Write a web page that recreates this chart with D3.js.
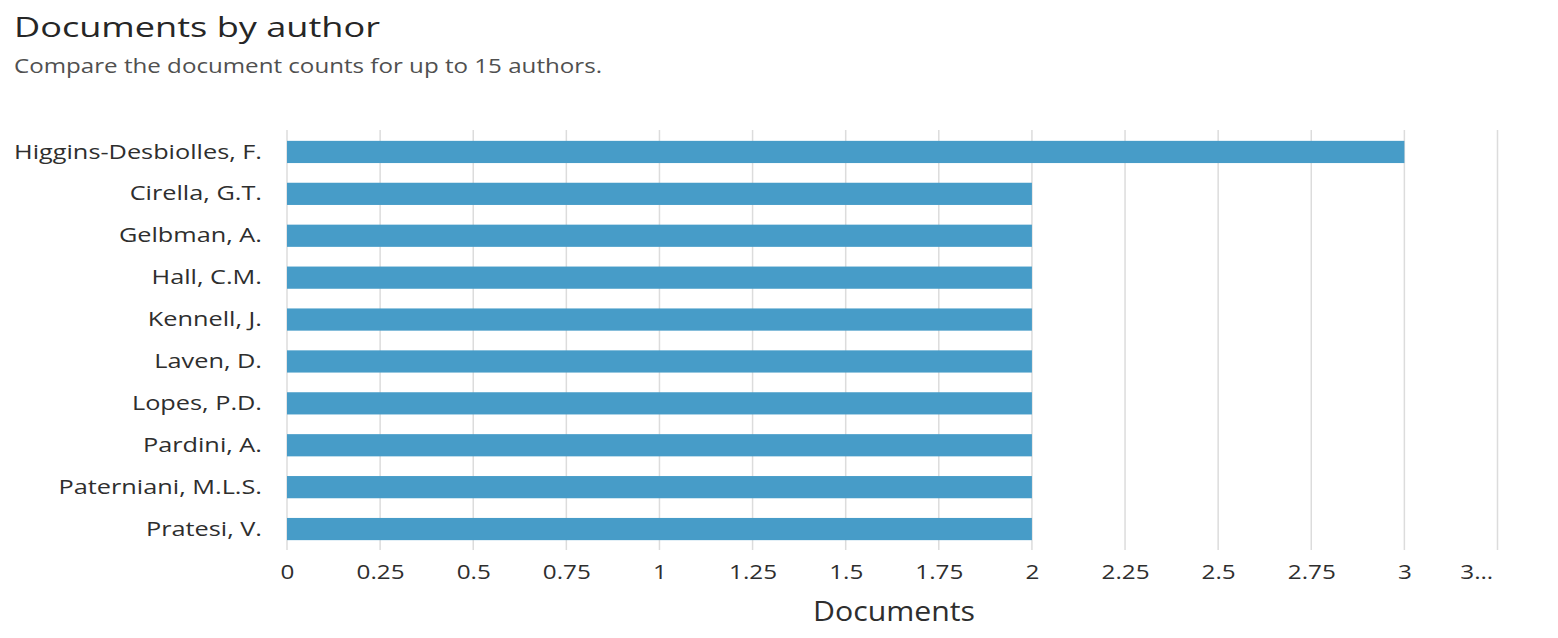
<!DOCTYPE html>
<html><head><meta charset="utf-8">
<script src="https://cdn.jsdelivr.net/npm/d3@7"></script>
<style>
body{margin:0;background:#fff;}
text{font-family:"Open Sans",Lato,sans-serif;}
</style></head><body>
<svg id="c" width="1558" height="638"></svg>
<script>
const authors = ["Higgins-Desbiolles, F.","Cirella, G.T.","Gelbman, A.","Hall, C.M.","Kennell, J.","Laven, D.","Lopes, P.D.","Pardini, A.","Paterniani, M.L.S.","Pratesi, V."];
const documents = [3,2,2,2,2,2,2,2,2,2];
const tickValues = [0,0.25,0.5,0.75,1,1.25,1.5,1.75,2,2.25,2.5,2.75,3,3.25];
const tickLabels = ["0","0.25","0.5","0.75","1","1.25","1.5","1.75","2","2.25","2.5","2.75","3","3…"];

const svg = d3.select("#c");

function stretch(sel, factor){
  sel.each(function(){
    const w = this.getComputedTextLength();
    d3.select(this).attr("textLength", w*factor).attr("lengthAdjust","spacingAndGlyphs");
  });
}

const title = svg.append("text").attr("x",14).attr("y",37).attr("fill","#262626")
  .style("font-size","27px").text("Documents by author");
stretch(title, 366/title.node().getComputedTextLength());
const sub = svg.append("text").attr("x",14).attr("y",73).attr("fill","#505050")
  .style("font-size","20px").text("Compare the document counts for up to 15 authors.");
stretch(sub, 588/sub.node().getComputedTextLength());

const x = d3.scaleLinear().domain([0,3.25]).range([287,1497.5]);
const y = d3.scaleBand().domain(authors).range([131,550]).paddingInner(0.47).paddingOuter(0.235);

const grid = svg.append("g");
grid.selectAll("line").data(tickValues).join("line")
  .attr("x1",d=>x(d)).attr("x2",d=>x(d)).attr("y1",130).attr("y2",550)
  .attr("stroke","#dcdcdc").attr("stroke-width",1.5);

svg.append("g").selectAll("rect").data(documents).join("rect")
  .attr("x",x(0)).attr("y",(d,i)=>y(authors[i]))
  .attr("width",d=>x(d)-x(0)).attr("height",y.bandwidth())
  .attr("fill","#479cc8");

const xa = svg.append("g").attr("transform","translate(0,550)")
  .call(d3.axisBottom(x).tickValues(tickValues).tickFormat((d,i)=>tickLabels[i]).tickSize(0).tickPadding(15));
xa.select(".domain").remove();
const xt = xa.selectAll("text").attr("fill","#2e2e2e").style("font-size","20px").style("font-family","'Open Sans',Lato,sans-serif");
const ref025 = xt.filter((d,i)=>i===1).node().getComputedTextLength();
stretch(xt, 48/ref025);
xt.filter((d,i)=>i===tickValues.length-1).attr("text-anchor","end").attr("dx","-5");

const ya = svg.append("g").attr("transform","translate(262,0)")
  .call(d3.axisLeft(y).tickSize(0).tickPadding(0));
ya.select(".domain").remove();
const yt = ya.selectAll("text").attr("fill","#2e2e2e").style("font-size","20px").style("font-family","'Open Sans',Lato,sans-serif").attr("dy","0.33em");
const refH = yt.filter((d,i)=>i===0).node().getComputedTextLength();
stretch(yt, 248/refH);

const at = svg.append("text").attr("x",894).attr("y",621).attr("text-anchor","middle")
  .attr("fill","#2e2e2e").style("font-size","27px").text("Documents");
stretch(at, 162/at.node().getComputedTextLength());
</script></body></html>
